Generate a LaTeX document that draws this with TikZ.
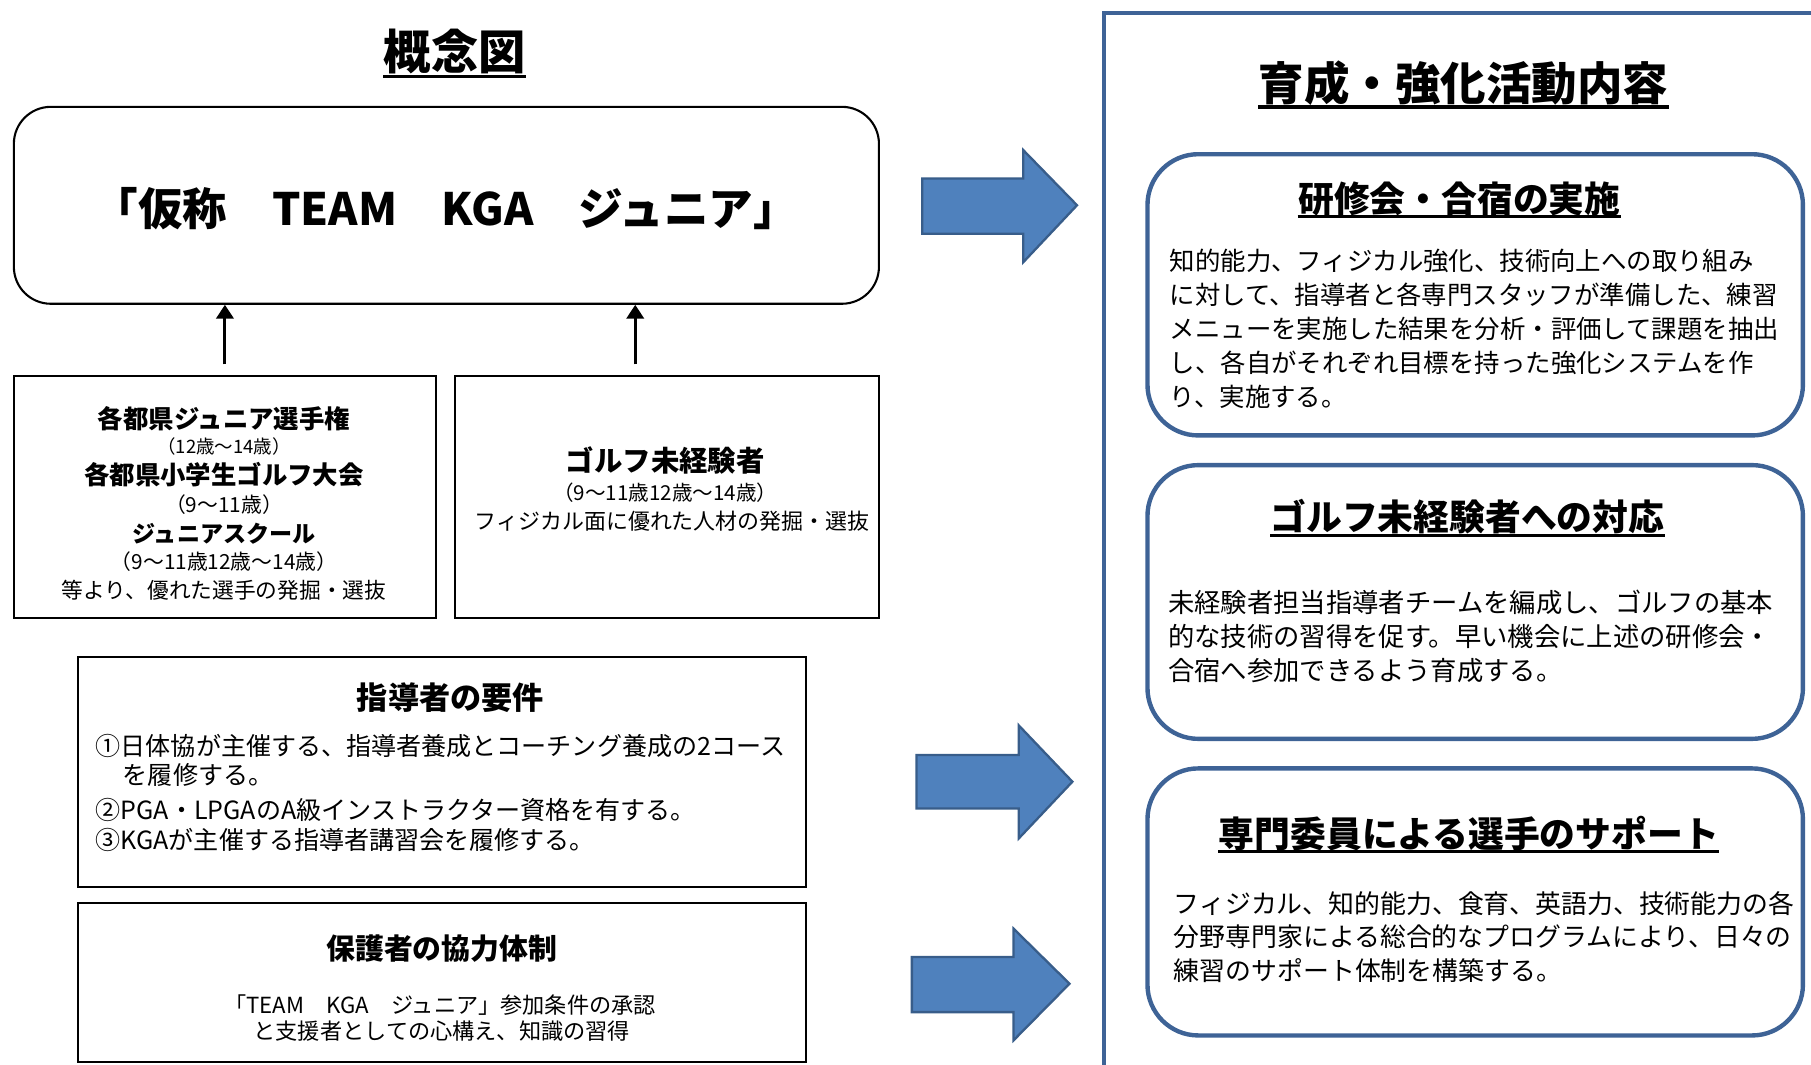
\documentclass[tikz,border=0pt]{standalone}
\usepackage{fontspec}
\setmainfont{Noto Sans CJK JP}
\usetikzlibrary{arrows.meta}
\definecolor{framec}{HTML}{3E6396}
\definecolor{arrowfill}{HTML}{4F81BD}
\definecolor{arrowline}{HTML}{385D8A}
\newcommand\fsz[1]{\fontsize{#1}{#1}\selectfont}
\begin{document}
\begin{tikzpicture}[x=0.5pt,y=-0.5pt,
  blackbox/.style={draw=black,line width=0.9pt,inner sep=0pt},
  bluebox/.style={draw=framec,line width=1.9pt,rounded corners=22pt,inner sep=0pt,minimum width=283.75pt},
  txt/.style={inner sep=0pt,anchor=base},
  ltxt/.style={inner sep=0pt,anchor=base west},
  upar/.style={line width=1.3pt,-{Triangle[length=6pt,width=7.5pt]}},
  blockarr/.style={fill=arrowfill,draw=arrowline,line width=1pt,line join=miter},
  uline/.style={line width=1.5pt},
  buline/.style={line width=1.3pt}]
\useasboundingbox (0,0) rectangle (1568,922);

% ---------- left column ----------
\node[txt,font=\bfseries\fsz{20.5pt}] (t1) at (393.75,60) {概念図};
\draw[uline] ([yshift=-3pt]t1.base west) -- ([yshift=-3pt]t1.base east);

\node[blackbox,rounded corners=16pt,minimum width=374.5pt,minimum height=85.25pt] (main) at (386.5,177.75) {};
\node[txt,font=\bfseries\fsz{19.3pt}] (mtext) at (386,195.6) {「仮称　TEAM　KGA　ジュニア」};

\node[blackbox,minimum width=182.75pt,minimum height=104.75pt] (L1) at (194.75,430.05) {};
\node[blackbox,minimum width=183.5pt,minimum height=104.75pt] (L2) at (577.5,430.05) {};

\draw[upar] ([yshift=4.5pt]L1.north) -- (L1.north |- main.south);
\draw[upar] ([xshift=-13.75pt,yshift=4.5pt]L2.north) -- ([xshift=-13.75pt]L2.north |- main.south);

\node[txt,font=\bfseries\fsz{11pt}] (l1a) at (194,371.4) {各都県ジュニア選手権};
\node[txt,font=\fsz{8pt}] (l1b) at (194,392.4) {（12歳～14歳）};
\node[txt,font=\bfseries\fsz{11pt}] (l1c) at (194,419.8) {各都県小学生ゴルフ大会};
\node[txt,font=\fsz{9pt}] (l1d) at (194,443.4) {（9～11歳）};
\node[txt,font=\bfseries\fsz{10pt}] (l1e) at (194,469.6) {ジュニアスクール};
\node[txt,font=\fsz{9pt}] (l1f) at (194,492.8) {（9～11歳12歳～14歳）};
\node[txt,font=\fsz{9.4pt}] (l1g) at (194,518.2) {等より、優れた選手の発掘・選抜};

\node[txt,font=\bfseries\fsz{12.3pt}] (l2a) at (576,408.3) {ゴルフ未経験者};
\node[txt,font=\fsz{8.9pt}] (l2b) at (576,433.4) {（9～11歳12歳～14歳）};
\node[txt,font=\fsz{9.5pt}] (l2c) at (582,458.5) {フィジカル面に優れた人材の発掘・選抜};

\node[blackbox,minimum width=315pt,minimum height=99.5pt] (req) at (382.5,668.5) {};
\node[txt,font=\bfseries\fsz{13.5pt}] (rqt) at (390,614.1) {指導者の要件};
\node[ltxt,font=\fsz{10.85pt}] (rq1) at (82.5,654.2) {①日体協が主催する、指導者養成とコーチング養成の2コース};
\node[ltxt,font=\fsz{10.85pt}] (rq1b) at (106,679.2) {を履修する。};
\node[ltxt,font=\fsz{10.85pt}] (rq2) at (82.5,709.2) {②PGA・LPGAのA級インストラクター資格を有する。};
\node[ltxt,font=\fsz{10.85pt}] (rq3) at (82.5,735.7) {③KGAが主催する指導者講習会を履修する。};

\node[blackbox,minimum width=315pt,minimum height=69.05pt] (par) at (382.5,850.65) {};
\node[txt,font=\bfseries\fsz{12.5pt}] (pat) at (382.5,830.9) {保護者の協力体制};
\node[txt,font=\fsz{9.6pt}] (pa1) at (381,877.3) {「TEAM　KGA　ジュニア」参加条件の承認};
\node[txt,font=\fsz{9.6pt}] (pa2) at (382.5,899.6) {と支援者としての心構え、知識の習得};

% ---------- block arrows ----------
\draw[blockarr] (798.5,154.6) -- (886,154.6) -- (886,130) -- (932.5,177.7) -- (886,227) -- (886,202.3) -- (798.5,202.3) -- cycle;
\draw[blockarr] (793.5,653.7) -- (882,653.7) -- (882,628) -- (928.5,676.8) -- (882,726) -- (882,700) -- (793.5,700) -- cycle;
\draw[blockarr] (789.5,828.6) -- (877.5,828.6) -- (877.5,804) -- (926,851.7) -- (877.5,900.8) -- (877.5,876.3) -- (789.5,876.3) -- cycle;

% ---------- right column ----------
\coordinate (fb) at (956,930);
\coordinate (fc) at (956,11);
\coordinate (fr) at (1580,11);
\draw[framec,line width=1.8pt] (fb) -- (fc) -- (fr);

\node[txt,font=\bfseries\fsz{19.7pt}] (t2) at (1267,87.3) {育成・強化活動内容};
\draw[uline] ([yshift=-2.6pt]t2.base west) -- ([yshift=-2.6pt]t2.base east);

\node[bluebox,minimum height=121.75pt] (rb1) at (1277.25,255.25) {};
\node[bluebox,minimum height=118.5pt] (rb2) at (1277.25,521.2) {};
\node[bluebox,minimum height=115.6pt] (rb3) at (1277.25,780.9) {};

\node[txt,font=\bfseries\fsz{15.5pt}] (bt1) at (1263.5,183.8) {研修会・合宿の実施};
\draw[buline] ([yshift=-2pt]bt1.base west) -- ([yshift=-2pt]bt1.base east);
\node[txt,font=\bfseries\fsz{15.5pt}] (bt2) at (1270.5,459.3) {ゴルフ未経験者への対応};
\draw[buline] ([yshift=-2pt]bt2.base west) -- ([yshift=-2pt]bt2.base east);
\node[txt,font=\bfseries\fsz{15.5pt}] (bt3) at (1271.8,733.4) {専門委員による選手のサポート};
\draw[buline] ([yshift=-2pt]bt3.base west) -- ([yshift=-2pt]bt3.base east);

\foreach \t [count=\i] in {知的能力、フィジカル強化、技術向上への取り組み,に対して、指導者と各専門スタッフが準備した、練習,メニューを実施した結果を分析・評価して課題を抽出,し、各自がそれぞれ目標を持った強化システムを作,り、実施する。}
  \node[ltxt,font=\fsz{11pt}] (ba\i) at (1012.5,{233.8+29.6*(\i-1)}) {\t};

\foreach \t [count=\i] in {未経験者担当指導者チームを編成し、ゴルフの基本,的な技術の習得を促す。早い機会に上述の研修会・,合宿へ参加できるよう育成する。}
  \node[ltxt,font=\fsz{11.4pt}] (bb\i) at (1011,{529.9+29.6*(\i-1)}) {\t};

\foreach \t [count=\i] in {フィジカル、知的能力、食育、英語力、技術能力の各,分野専門家による総合的なプログラムにより、日々の,練習のサポート体制を構築する。}
  \node[ltxt,font=\fsz{11.2pt}] (bc\i) at (1016,{790.8+28.9*(\i-1)}) {\t};
\end{tikzpicture}
\end{document}
